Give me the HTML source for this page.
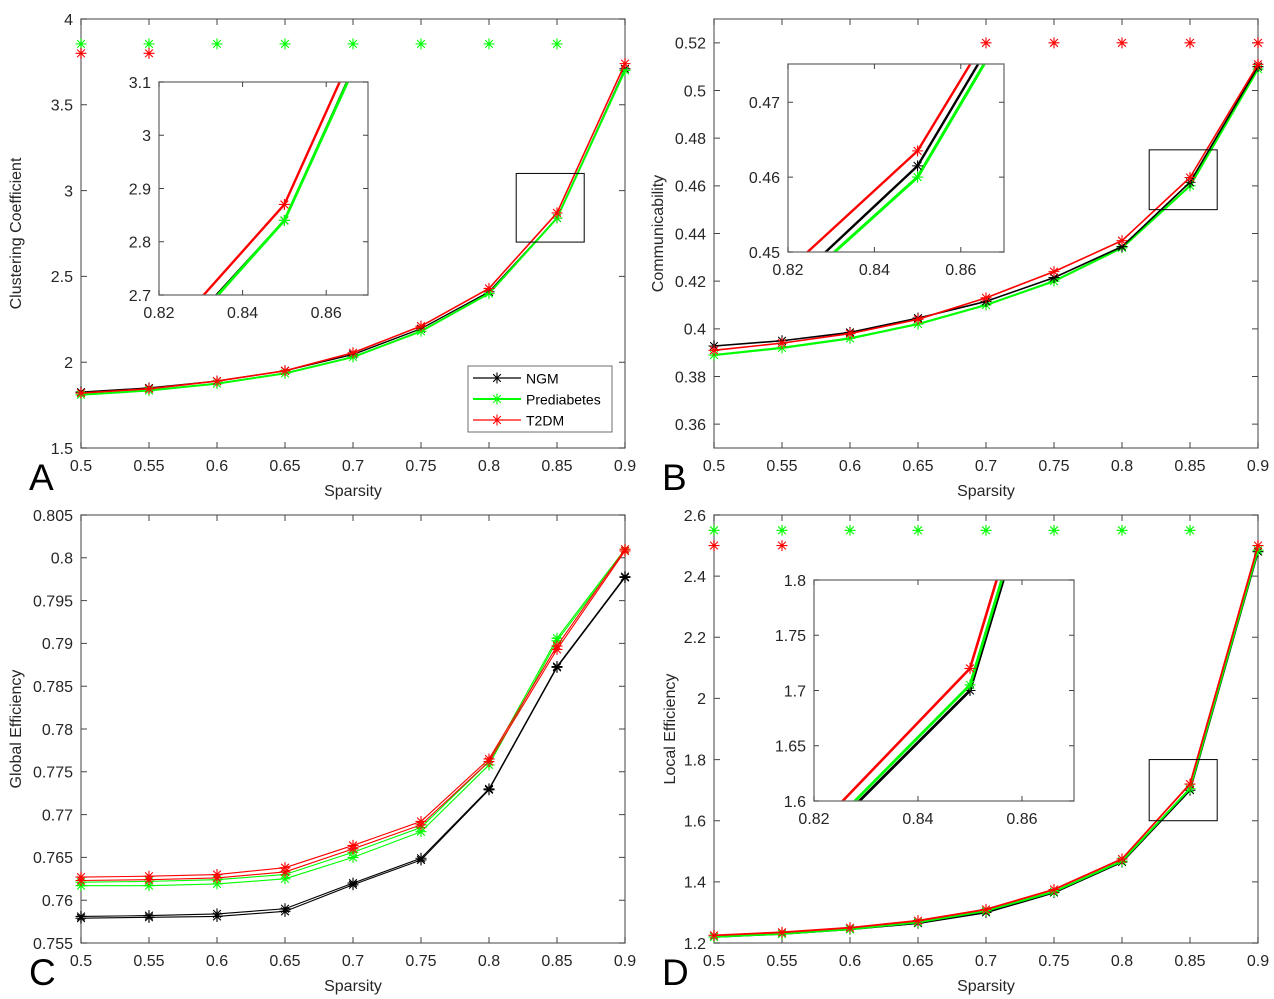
<!DOCTYPE html>
<html><head><meta charset="utf-8"><style>
html,body{margin:0;padding:0;background:#fff;width:1274px;height:999px;overflow:hidden;}
svg{display:block;font-family:"Liberation Sans",Arial,sans-serif;overflow:hidden;}
</style></head><body>
<svg id="fig" width="1274" height="999" viewBox="0 0 1274 999" xmlns="http://www.w3.org/2000/svg"></svg>
<script>
const sparsity=[0.5,0.55,0.6,0.65,0.7,0.75,0.8,0.85,0.9];
// Panel A: clustering coefficient
const ccNGM=[1.826,1.85,1.89,1.95,2.045,2.195,2.41,2.84,3.71];
const ccPre=[1.81,1.835,1.875,1.935,2.03,2.18,2.40,2.84,3.70];
const ccT2=[1.82,1.845,1.89,1.95,2.055,2.21,2.43,2.87,3.74];
const ccSigGreenX=[0.5,0.55,0.6,0.65,0.7,0.75,0.8,0.85];
const ccSigRedX=[0.5,0.55];
// Panel B: communicability
const cmNGM=[0.3928,0.395,0.3985,0.4045,0.4115,0.4215,0.4345,0.4615,0.510];
const cmPre=[0.389,0.392,0.396,0.402,0.410,0.420,0.434,0.460,0.509];
const cmT2=[0.391,0.394,0.398,0.404,0.413,0.424,0.437,0.4635,0.511];
const cmSigRedX=[0.7,0.75,0.8,0.85,0.9];
// Panel C: global efficiency (two lines per group)
const geNGMa=[0.7579,0.7580,0.7581,0.7587,0.7618,0.7647,0.7729,0.7872,0.7977];
const geNGMb=[0.7581,0.7582,0.7584,0.7590,0.7620,0.7649,0.7730,0.7873,0.7978];
const gePreA=[0.7617,0.7617,0.7619,0.7625,0.7650,0.7680,0.7758,0.7903,0.8008];
const gePreB=[0.7621,0.7622,0.7624,0.7630,0.7656,0.7685,0.7762,0.7906,0.8010];
const geT2a=[0.7623,0.7624,0.7626,0.7633,0.7660,0.7688,0.7762,0.7893,0.8008];
const geT2b=[0.7627,0.7628,0.7630,0.7638,0.7664,0.7692,0.7765,0.7897,0.8010];
// Panel D: local efficiency
const leNGM=[1.22,1.23,1.245,1.265,1.30,1.365,1.465,1.70,2.48];
const lePre=[1.22,1.23,1.245,1.268,1.305,1.368,1.468,1.705,2.485];
const leT2=[1.225,1.235,1.25,1.273,1.31,1.375,1.475,1.72,2.50];
const leSigGreenX=[0.5,0.55,0.6,0.65,0.7,0.75,0.8,0.85];
const leSigRedX=[0.5,0.55];
// tick labels
const xTicks=[0.5,0.55,0.6,0.65,0.7,0.75,0.8,0.85,0.9];
const xTickLabels=["0.5","0.55","0.6","0.65","0.7","0.75","0.8","0.85","0.9"];
const aTicks=[1.5,2,2.5,3,3.5,4];const aTickLabels=["1.5","2","2.5","3","3.5","4"];
const bTicks=[0.36,0.38,0.40,0.42,0.44,0.46,0.48,0.50,0.52];const bTickLabels=["0.36","0.38","0.4","0.42","0.44","0.46","0.48","0.5","0.52"];
const cTicks=[0.755,0.76,0.765,0.77,0.775,0.78,0.785,0.79,0.795,0.8,0.805];const cTickLabels=["0.755","0.76","0.765","0.77","0.775","0.78","0.785","0.79","0.795","0.8","0.805"];
const dTicks=[1.2,1.4,1.6,1.8,2,2.2,2.4,2.6];const dTickLabels=["1.2","1.4","1.6","1.8","2","2.2","2.4","2.6"];
const inXTicks=[0.82,0.84,0.86];const inXTickLabels=["0.82","0.84","0.86"];
const inATicks=[2.7,2.8,2.9,3,3.1];const inATickLabels=["2.7","2.8","2.9","3","3.1"];
const inBTicks=[0.45,0.46,0.47];const inBTickLabels=["0.45","0.46","0.47"];
const inDTicks=[1.6,1.65,1.7,1.75,1.8];const inDTickLabels=["1.6","1.65","1.7","1.75","1.8"];

const NS="http://www.w3.org/2000/svg";
const svg=document.getElementById('fig');
let clipId=0;
function mk(tag,attrs,parent){const e=document.createElementNS(NS,tag);for(const k in attrs)e.setAttribute(k,attrs[k]);(parent||svg).appendChild(e);return e;}
function axes(box,xr,yr){return{x:v=>box.L+(v-xr[0])/(xr[1]-xr[0])*(box.R-box.L),y:v=>box.B-(v-yr[0])/(yr[1]-yr[0])*(box.B-box.T)};}
function star(g,cx,cy,col,s){
  const p=mk('path',{d:`M${cx-s},${cy}H${cx+s}M${cx},${cy-s}V${cy+s}M${cx-s*0.7},${cy-s*0.7}L${cx+s*0.7},${cy+s*0.7}M${cx-s*0.7},${cy+s*0.7}L${cx+s*0.7},${cy-s*0.7}`,stroke:col,'stroke-width':1.1,fill:'none'},g);
  
  
}
function frame(g,box,ax,xt,xl,yt,yl,fs,tl){
  const r=mk('rect',{x:box.L,y:box.T,width:box.R-box.L,height:box.B-box.T,fill:'none',stroke:'#6e6e6e','stroke-width':1.3},g);
  
  
  xt.forEach((v,i)=>{const x=ax.x(v);
    mk('path',{d:`M${x},${box.B}v-${tl}M${x},${box.T}v${tl}`,stroke:'#444','stroke-width':1},g);
    const t=mk('text',{x:x,y:box.B+fs+7,'text-anchor':'middle','font-size':fs,fill:'#262626'},g);t.textContent=xl[i];
    
    });
  yt.forEach((v,i)=>{const y=ax.y(v);
    mk('path',{d:`M${box.L},${y}h${tl}M${box.R},${y}h-${tl}`,stroke:'#444','stroke-width':1},g);
    const t=mk('text',{x:box.L-8,y:y+fs*0.36,'text-anchor':'end','font-size':fs,fill:'#262626'},g);t.textContent=yl[i];
    
    });
}
function series(g,ax,xs,ys,col,w,markers,onlyIdx){
  const d=xs.map((x,i)=>(i?'L':'M')+ax.x(x).toFixed(2)+','+ax.y(ys[i]).toFixed(2)).join('');
  const p=mk('path',{d:d,stroke:col,'stroke-width':w,fill:'none','stroke-linejoin':'round'},g);
  
  
  if(markers)xs.forEach((x,i)=>{if(onlyIdx===undefined||onlyIdx.includes(i))star(g,ax.x(x),ax.y(ys[i]),col,5.5);});
}
function panel(o){
  const g=mk('g',{});
  
  
  const ax=axes(o.box,[0.5,0.9],o.yr);
  frame(g,o.box,ax,xTicks,xTickLabels,o.yt,o.yl,16,6);
  o.series.forEach(s=>series(g,ax,sparsity,s[0],s[1],s[2],true));
  (o.sigG||[]).forEach(x=>star(g,ax.x(x),ax.y(o.sigGy),'#00ff00',5.5));
  (o.sigR||[]).forEach(x=>star(g,ax.x(x),ax.y(o.sigRy),'#ff0000',5.5));
  const zr=mk('rect',{x:ax.x(0.82),y:ax.y(o.in.yr[1]),width:ax.x(0.87)-ax.x(0.82),height:ax.y(o.in.yr[0])-ax.y(o.in.yr[1]),fill:'none',stroke:'#000','stroke-width':1},g);
  
  
  const ib=o.in.box;
  const ig=mk('g',{},g);
  
  
  mk('rect',{x:ib.L,y:ib.T,width:ib.R-ib.L,height:ib.B-ib.T,fill:'#fff'},ig);
  const iax=axes(ib,[0.82,0.87],o.in.yr);
  const cid='clip'+(clipId++);
  const cp=mk('clipPath',{id:cid},ig);mk('rect',{x:ib.L,y:ib.T,width:ib.R-ib.L,height:ib.B-ib.T},cp);
  const cg=mk('g',{'clip-path':`url(#${cid})`},ig);
  o.series.forEach(s=>series(cg,iax,sparsity,s[0],s[1],s[2]+0.8,true,[7]));
  frame(ig,ib,iax,inXTicks,inXTickLabels,o.in.yt,o.in.yl,16,5);
  const xl=mk('text',{x:(o.box.L+o.box.R)/2,y:o.box.B+48,'text-anchor':'middle','font-size':16,fill:'#262626'},g);xl.textContent='Sparsity';
  
  
  const yl=mk('text',{x:o.ylx,y:(o.box.T+o.box.B)/2,'text-anchor':'middle','font-size':16,fill:'#262626',transform:`rotate(-90 ${o.ylx} ${(o.box.T+o.box.B)/2})`},g);yl.textContent=o.ylabel;
  
  
  const pl=mk('text',{x:o.box.L-52,y:o.box.B+42,'font-size':37,fill:'#000'},g);pl.textContent=o.letter;
  
  
  return{g,ax};
}
const K='#000000',G='#00ff00',R='#ff0000';
const pA=panel({name:'panel-a-clustering',letter:'A',box:{L:81,R:625,T:19,B:448},yr:[1.5,4],yt:aTicks,yl:aTickLabels,
  series:[[ccNGM,K,1.3],[ccPre,G,2],[ccT2,R,1.6]],sigG:ccSigGreenX,sigGy:3.855,sigR:ccSigRedX,sigRy:3.80,
  in:{box:{L:159,R:368,T:82,B:295},yr:[2.7,3.1],yt:inATicks,yl:inATickLabels},ylx:21,ylabel:'Clustering Coefficient'});
const pB=panel({name:'panel-b-communicability',letter:'B',box:{L:714,R:1258,T:19,B:448},yr:[0.35,0.53],yt:bTicks,yl:bTickLabels,
  series:[[cmPre,G,2.2],[cmNGM,K,1.6],[cmT2,R,1.6]],sigR:cmSigRedX,sigRy:0.52,
  in:{box:{L:788,R:1004,T:64,B:252},yr:[0.45,0.4751],yt:inBTicks,yl:inBTickLabels},ylx:663,ylabel:'Communicability'});
const pC=mk('g',{});


(function(){
  const box={L:81,R:625,T:515,B:943};const ax=axes(box,[0.5,0.9],[0.755,0.805]);
  frame(pC,box,ax,xTicks,xTickLabels,cTicks,cTickLabels,16,6);
  [[geNGMa,K],[geNGMb,K],[gePreA,G],[gePreB,G],[geT2a,R],[geT2b,R]].forEach(s=>series(pC,ax,sparsity,s[0],s[1],1.1,true));
  const xl=mk('text',{x:353,y:991,'text-anchor':'middle','font-size':16,fill:'#262626'},pC);xl.textContent='Sparsity';
  
  
  const yl=mk('text',{x:21,y:729,'text-anchor':'middle','font-size':16,fill:'#262626',transform:'rotate(-90 21 729)'},pC);yl.textContent='Global Efficiency';
  
  
  const pl=mk('text',{x:29,y:985,'font-size':37,fill:'#000'},pC);pl.textContent='C';
  
  
})();
const pD=panel({name:'panel-d-local-efficiency',letter:'D',box:{L:714,R:1258,T:515,B:943},yr:[1.2,2.6],yt:dTicks,yl:dTickLabels,
  series:[[leNGM,K,2],[lePre,G,2],[leT2,R,1.8]],sigG:leSigGreenX,sigGy:2.55,sigR:leSigRedX,sigRy:2.50,
  in:{box:{L:814,R:1074,T:580,B:801},yr:[1.6,1.8],yt:inDTicks,yl:inDTickLabels},ylx:675,ylabel:'Local Efficiency'});
const lg=mk('g',{});


mk('rect',{x:468,y:366,width:144,height:66,fill:'#fff',stroke:'#6e6e6e','stroke-width':1},lg);
[['NGM',K,378],['Prediabetes',G,399],['T2DM',R,420]].forEach(e=>{
  const eg=mk('g',{},lg);
  
  
  mk('line',{x1:473,x2:521,y1:e[2],y2:e[2],stroke:e[1],'stroke-width':e[1]===G?2:1.2},eg);
  star(eg,497,e[2],e[1],5.5);
  const t=mk('text',{x:526,y:e[2]+5.5,'font-size':14,fill:'#000'},eg);t.textContent=e[0];
});
</script>
</body></html>
